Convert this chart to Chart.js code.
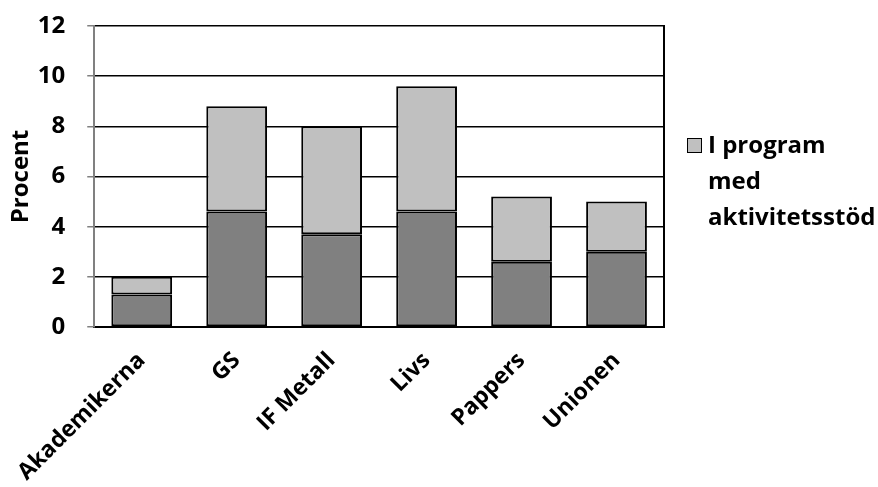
<!DOCTYPE html>
<html>
<head>
<meta charset="utf-8">
<script src="https://cdn.jsdelivr.net/npm/chart.js@4"></script>
<style>
    html, body { margin: 0; padding: 0; background: #fff; }
    #wrap { position: relative; width: 878px; height: 487px; }
    #legend {
        position: absolute; left: 687px; top: 126px;
        font: bold 24px "Open Sans", sans-serif; color: #000; line-height: 36px;
    }
    #legend .box {
        position: absolute; left: 0; top: 12px; width: 13px; height: 13px;
        background: #c0c0c0; border: 1px solid #000;
    }
    #legend .txt { margin-left: 21px; }
</style>
</head>
<body>
<div id="wrap">
    <canvas id="chart" width="878" height="487"></canvas>
    <div id="legend"><span class="box"></span><div class="txt">I program<br>med<br>aktivitetsstöd</div></div>
</div>
<script>
    // Data
    var categories = ["Akademikerna", "GS", "IF Metall", "Livs", "Pappers", "Unionen"];
    var baseValues = [1.3, 4.6, 3.7, 4.6, 2.6, 3.0];
    var programValues = [0.7, 4.2, 4.3, 5.0, 2.6, 2.0];
    var programLabel = "I program med aktivitetsstöd";
    var yTicks = [0, 2, 4, 6, 8, 10, 12];

    var font = { family: "'Open Sans', sans-serif", size: 24, weight: "bold" };
    var xFont = { family: "'Open Sans', sans-serif", size: 23, weight: "bold" };

    var ctx = document.getElementById("chart").getContext("2d");
    var myChart = new Chart(ctx, {
        type: "bar",
        data: {
            labels: categories,
            datasets: [{
                    label: "",
                    data: baseValues,
                    backgroundColor: "#808080",
                    borderColor: "#000000",
                    borderWidth: 2,
                    borderSkipped: false,
                    barPercentage: 0.64,
                    categoryPercentage: 1
                },
                {
                    label: programLabel,
                    data: programValues,
                    backgroundColor: "#c0c0c0",
                    borderColor: "#000000",
                    borderWidth: 2,
                    borderSkipped: false,
                    barPercentage: 0.64,
                    categoryPercentage: 1
                }
            ]
        },
        options: {
            responsive: false,
            animation: false,
            layout: { padding: { left: 5, top: 0, right: 214, bottom: 0 } },
            plugins: {
                legend: { display: false },
                tooltip: { enabled: false }
            },
            scales: {
                x: {
                    stacked: true,
                    grid: { display: false, drawTicks: false },
                    border: { color: "#000000", width: 2 },
                    ticks: {
                        color: "#000000", font: xFont,
                        minRotation: 45, maxRotation: 45, padding: 20
                    },
                    // the rotated first label hangs left into the margin, as in the original
                    afterFit: function (axis) {
                        axis.paddingLeft = 0;
                        axis.height = 160;
                    }
                },
                y: {
                    stacked: true,
                    min: 0, max: 12,
                    afterBuildTicks: function (axis) {
                        axis.ticks = yTicks.map(function (v) { return { value: v }; });
                    },
                    // chart.js counts the tick padding twice; keep the title close to the labels
                    afterFit: function (axis) {
                        axis.width -= axis.options.ticks.padding;
                        axis.paddingTop = 26;
                    },
                    grid: { color: "#000000", lineWidth: 1.5, tickLength: 7, tickColor: "#808080" },
                    border: { color: "#808080", width: 2 },
                    ticks: { color: "#000000", font: font, padding: 22 },
                    title: { display: true, text: "Procent", color: "#000000", font: font, padding: 2 }
                },
                y2: {
                    position: "right",
                    min: 0, max: 12,
                    grid: { display: false, drawTicks: false },
                    border: { color: "#000000", width: 2 },
                    ticks: { display: false }
                }
            }
        }
    });
</script>
</body>
</html>
